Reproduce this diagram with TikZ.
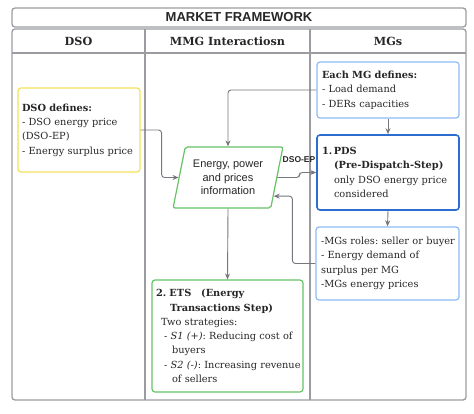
\documentclass[tikz,border=0pt]{standalone}
\usepackage{fontspec}
\setmainfont{DejaVu Serif}
\newfontfamily\sansf{Liberation Sans}
\usetikzlibrary{arrows.meta,shapes.geometric,calc}
\frenchspacing
\definecolor{framegray}{HTML}{9A9CA2}
\definecolor{arrgray}{HTML}{75777C}
\definecolor{ylw}{HTML}{F3E05A}
\definecolor{grn}{HTML}{66C266}
\definecolor{lblue}{HTML}{8DBBF2}
\definecolor{dblue}{HTML}{2B6ECF}
\begin{document}
\begin{tikzpicture}[x=1pt,y=-1pt,
  frameline/.style={draw=framegray, line width=1.3pt},
  hdr/.style={font=\bfseries\fontsize{11.2}{13}\selectfont, text=black!85},
  box/.style={draw, rounded corners=3pt, line width=1.2pt, align=left,
    inner xsep=5pt, inner ysep=0pt, font=\frenchspacing\fontsize{9.8}{14.3}\selectfont, text=black!85},
  para/.style={shape=trapezium, trapezium left angle=74, trapezium right angle=106,
    trapezium stretches=true, minimum width=110pt, minimum height=61pt,
    draw=grn, line width=1.2pt, rounded corners=2pt, align=center, inner sep=0pt,
    font=\sansf\fontsize{11}{13.5}\selectfont, text=black!85},
  conn/.style={draw=arrgray, line width=0.9pt, rounded corners=3pt,
    -{Stealth[length=6pt,width=5pt]}},
  lbl/.style={font=\sansf\bfseries\fontsize{8.5}{9}\selectfont, text=black!85}
]
\useasboundingbox (0,0) rectangle (474,413);
% frame
\draw[frameline, rounded corners=3pt] (12,8) rectangle (466,27);
\draw[frameline, rounded corners=3pt] (12,29) rectangle (466,400);
\draw[frameline] (12,53) -- (466,53);
\draw[frameline] (145,29) -- (145,400);
\draw[frameline] (310,29) -- (310,400);
\node[font=\sansf\bfseries\fontsize{13}{14}\selectfont, text=black!85] (title) at (239,17.5) {MARKET FRAMEWORK};
\node[hdr] (hdso) at (78.5,41) {DSO};
\node[hdr] (hmmg) at (227.5,41) {MMG Interactiosn};
\node[hdr] (hmg) at (388,41) {MGs};
% boxes
\node[box, draw=ylw, text width=114pt, inner xsep=4pt, minimum height=84pt] (dso) at (79,130)
  {\textbf{DSO defines:}\\- DSO energy price\\(DSO-EP)\\\mbox{- Energy surplus price}};
\node[box, draw=lblue, text width=132pt, minimum height=56pt] (mg) at (388,90)
  {\textbf{Each MG defines:}\\- Load demand\\- DERs capacities};
\node[box, draw=dblue, line width=1.6pt, text width=132pt, minimum height=75pt] (pds) at (388,172.5)
  {\textbf{1.\,PDS}\\\hspace*{12pt}\textbf{(Pre-Dispatch-Step)}\\\hspace*{12pt}only DSO energy price\\\hspace*{12pt}considered};
\node[box, draw=lblue, text width=133pt, minimum height=73pt] (roles) at (387.5,263.5)
  {\mbox{-MGs roles: seller or buyer}\\- Energy demand of\\surplus per MG\\-MGs energy prices};
\node[box, draw=grn, text width=143pt, minimum height=112pt, inner xsep=4pt] (ets) at (227.5,336)
  {\textbf{2. ETS\quad(Energy}\\
   \hspace*{14pt}\textbf{Transactions Step)}\\
   \hspace*{5pt}Two strategies:\\
   \mbox{\hspace*{8pt}- \textit{S1 (+)}: Reducing cost of}\\
   \hspace*{16pt}buyers\\
   \mbox{\hspace*{8pt}- \textit{S2 (-)}: Increasing revenue}\\
   \hspace*{16pt}of sellers};
\node[para] (para) at (228,177.5) {Energy, power\\and prices\\information};
\node[lbl] (dsoep) at (299,160) {DSO-EP};
% connectors
\draw[conn] (dso.east) -- ++(21,0) |- (para.west);
\draw[conn] (mg.west) -| (para.north);
\draw[conn] (para.east) -- ++(22,0) |- (pds.west);
\draw[conn] (mg.south) -- (pds.north);
\draw[conn] (pds.south) -- (roles.north);
\draw[conn] (roles.west) -- ++(-23,0) |- ($(para.bottom right corner)!0.2!(para.top right corner)$);
\draw[conn] (para.south) -- (ets.north);
\end{tikzpicture}
\end{document}
